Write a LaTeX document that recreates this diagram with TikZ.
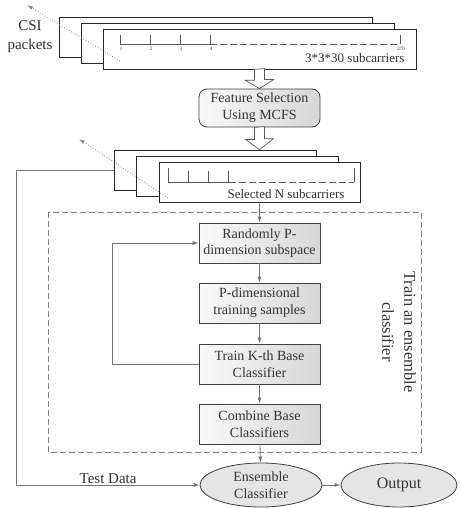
\documentclass[tikz,border=0pt]{standalone}
\usepackage{fontspec}
\setmainfont{Liberation Serif}
\usetikzlibrary{arrows.meta,shapes.geometric}

\begin{document}
\begin{tikzpicture}[x=1pt,y=-1pt,
  every node/.style={text=black!80},
  sheet/.style={draw=black!85,line width=0.7pt,fill=white,minimum height=40pt,inner sep=0pt},
  stepbox/.style={draw=black!75,line width=0.8pt,left color=gray!4,right color=gray!32,minimum width=121pt,minimum height=40pt,inner sep=0pt,align=center,font=\fontsize{14}{16.7}\selectfont},
  oval/.style={ellipse,draw=black!75,line width=0.8pt,fill=gray!20,minimum height=44pt,inner sep=0pt,align=center,font=\fontsize{14}{16.7}\selectfont},
  flow/.style={draw=black!55,line width=0.8pt,-{Latex[length=6pt,width=4pt]}},
  hollow/.style={draw=black!65,line width=0.7pt,fill=white},
  hint/.style={draw=black!45,dotted,line width=0.8pt,-{Latex[length=6pt,width=4pt]}},
  ruler/.style={draw=black!65,line width=0.7pt},
  frame/.style={draw=black!50,line width=0.8pt,dash pattern=on 6pt off 3pt},
  ticklabel/.style={font=\fontsize{5}{6}\selectfont,inner sep=0pt}]
\useasboundingbox (0,0) rectangle (460,508);

% raw CSI packets
\path (215.5,37) node[sheet,minimum width=313pt](csiback){} (237.5,43) node[sheet,minimum width=313pt](csimid){} (259.5,49) node[sheet,minimum width=313pt](csifront){};
\draw[ruler] (120,44) -- (210,44);
\draw[ruler,dash pattern=on 7pt off 3pt] (210,44) -- (400,44);
\foreach \x/\n in {120/1,150/2,180/3,210/4,400/270} {
  \draw[ruler] (\x,35) -- (\x,44);
  \path (\x+1,49) node[ticklabel]{\n};
}
\path (408,63) node[anchor=base east,font=\fontsize{13}{15}\selectfont](subtotal){3*3*30 subcarriers};
\path (30,37) node[align=center,font=\fontsize{15}{19}\selectfont](csi){CSI\\packets};

\path (259.5,108) node[stepbox,rounded corners=8pt,minimum height=38pt](fs){Feature Selection\\Using MCFS};

% selected subcarriers
\path (215,170) node[sheet,minimum width=202pt](selback){} (237,176) node[sheet,minimum width=202pt](selmid){} (259.5,182) node[sheet,minimum width=201pt](selfront){};
\draw[ruler] (168,168) -- (168,182) -- (228.5,182);
\draw[ruler,dash pattern=on 7pt off 3pt] (228.5,182) -- (354,182);
\draw[ruler] (354,182) -- (354,168);
\foreach \x in {188.5,208.5,228.5}
  \draw[ruler] (\x,171) -- (\x,182);
\path (286,198) node[anchor=base,font=\fontsize{13}{15}\selectfont](selN){Selected N subcarriers};

% hollow arrows
\draw[hollow] ([xshift=-5pt]csifront.south) -- ++(0,11) -- ++(-9,0) -- (fs.north) -- ++(14,-9) -- ++(-9,0) -- ++(0,-11) -- cycle;
\draw[hollow] ([xshift=-5pt]fs.south) -- ++(0,12) -- ++(-9,0) -- (fs.south |- selback.north) -- ++(14,-11) -- ++(-9,0) -- ++(0,-12) -- cycle;

% dotted hints
\coordinate (hintA) at (120,61);
\coordinate (hintAend) at (27,5);
\coordinate (hintB) at (168,198);
\coordinate (hintBend) at (79,139);
\draw[hint] (hintA) -- (hintAend);
\draw[hint] (hintB) -- (hintBend);

% ensemble training
\draw[frame] (48,212) rectangle (421,452);
\path (399,332) node[rotate=-90,align=center,font=\fontsize{16.5}{22}\selectfont](trainlabel){Train an ensemble\\classifier};

\path (259.5,243) node[stepbox](subspace){Randomly P-\\dimension subspace} (259.5,303) node[stepbox](samples){P-dimensional\\training samples} (259.5,364) node[stepbox](trainK){Train K-th Base\\Classifier} (259.5,424) node[stepbox](combine){Combine Base\\Classifiers};

\path (261,485) node[oval,minimum width=122pt](ensemble){Ensemble\\Classifier} (399,485) node[oval,minimum width=116pt,font=\fontsize{16}{19}\selectfont](output){Output};

\draw[flow] (selfront.south) -- (subspace.north);
\draw[flow] (subspace) -- (samples);
\draw[flow] (samples) -- (trainK);
\draw[flow] (trainK) -- (combine);
\draw[flow] (trainK.west) -- ++(-86,0) |- (subspace.west);
\draw[flow] (combine) -- (ensemble);
\draw[flow] (ensemble) -- (output);
\draw[flow] (selback.west) -- ++(-97,0) |- (ensemble.west) node[pos=0.75,above,inner sep=1pt,font=\fontsize{15}{18}\selectfont](testlbl){Test Data};
\end{tikzpicture}
\end{document}
